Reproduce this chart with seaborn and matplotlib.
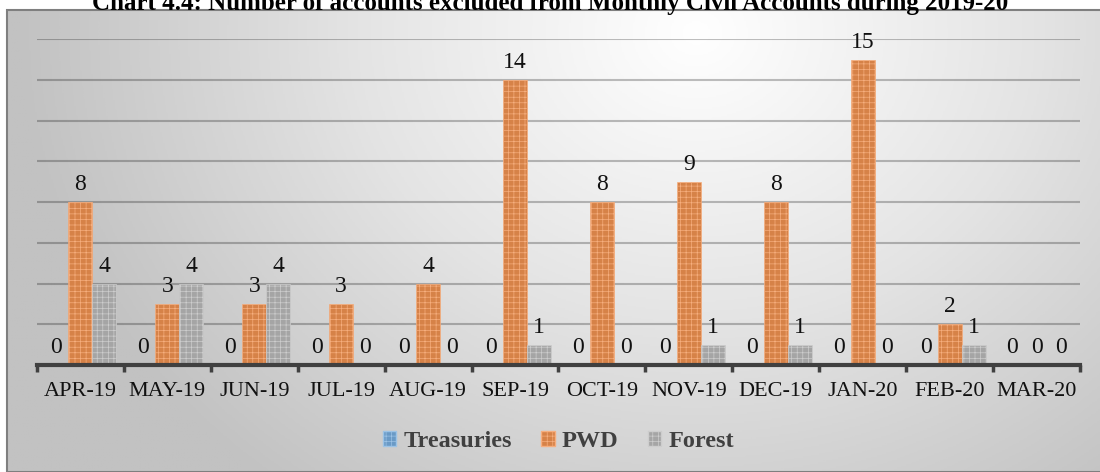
import matplotlib
matplotlib.use("Agg")
import matplotlib.pyplot as plt
from matplotlib.colors import LinearSegmentedColormap
from matplotlib.patches import Rectangle
import seaborn as sns
import pandas as pd
import numpy as np

# Data
months = ['APR-19', 'MAY-19', 'JUN-19', 'JUL-19', 'AUG-19', 'SEP-19',
          'OCT-19', 'NOV-19', 'DEC-19', 'JAN-20', 'FEB-20', 'MAR-20']
treasuries = [0, 0, 0, 0, 0, 0, 0, 0, 0, 0, 0, 0]
pwd = [8, 3, 3, 3, 4, 14, 8, 9, 8, 15, 2, 0]
forest = [4, 4, 4, 0, 0, 1, 0, 1, 1, 0, 1, 0]
series = ['Treasuries', 'PWD', 'Forest']
colors = ['#5B9BD5', '#ED7D31', '#A5A5A5']
tints = ['#9cc3e6', '#f6ae7e', '#cdcdcd']

df = pd.DataFrame({
    'month': months * 3,
    'dept': [s for s in series for _ in months],
    'count': treasuries + pwd + forest,
})

sns.set_theme(style='white')
plt.rcParams['font.family'] = ['Liberation Serif', 'DejaVu Serif']
plt.rcParams['hatch.linewidth'] = 0.5

fig = plt.figure(figsize=(11, 4.72), dpi=100)
fig.patch.set_facecolor('white')

# Radial gradient background of the chart frame
bg = fig.add_axes([0.0064, 0, 0.9936, 0.979])
bg.set_axis_off()
h, w = 300, 700
yy, xx = np.mgrid[0:h, 0:w]
cx, cy = 0.63 * w, 0.05 * h
d = np.sqrt(((xx - cx) / (0.62 * w)) ** 2 + ((yy - cy) / (1.25 * h)) ** 2)
d = np.clip(d, 0, 1)
cmap = LinearSegmentedColormap.from_list('bg', ['#ffffff', '#e4e4e4', '#c2c2c2'])
bg.imshow(d, cmap=cmap, aspect='auto', extent=[0, 1, 0, 1], origin='upper')
bg.set_xlim(0, 1)
bg.set_ylim(0, 1)
bg.add_patch(Rectangle((0, 0), 1.2, 1, fill=False, edgecolor='#7f7f7f', lw=1.5,
                       transform=bg.transAxes, clip_on=False))

ax = fig.add_axes([0.0336, 0.2267, 0.9482, 0.69])
ax.patch.set_alpha(0)
sns.barplot(data=df, x='month', y='count', hue='dept', palette=colors,
            hue_order=series, width=0.83, ax=ax, legend=True)

for cont, tint in zip(ax.containers, tints):
    for bar in cont:
        bar.set_hatch('+++')
        bar.set_edgecolor(tint)
        bar.set_linewidth(0.5)
    ax.bar_label(cont, labels=[str(int(b.get_height())) for b in cont],
                 padding=5, fontsize=17, color='#111111')

ax.set_ylim(0, 16)
ax.set_xlim(-0.5, len(months) - 0.5)
ax.set_yticks(range(2, 17, 2))
ax.set_yticklabels([])
ax.yaxis.grid(True, color='black', alpha=0.25, lw=1.5)
ax.set_axisbelow(True)
ax.tick_params(axis='y', length=0)
for s in ['top', 'right', 'left']:
    ax.spines[s].set_visible(False)
ax.spines['bottom'].set_color('#404040')
ax.spines['bottom'].set_linewidth(3)
ax.set_xlabel('')
ax.set_ylabel('')
ax.tick_params(axis='x', which='major', length=0, labelsize=16, pad=12,
               labelcolor='#111111')
ax.set_xticks(np.arange(-0.5, len(months), 1), minor=True)
ax.tick_params(axis='x', which='minor', length=5, width=2.5, color='#404040',
               bottom=True)

leg = ax.legend(loc='center', bbox_to_anchor=(0.5, -0.235), ncol=3, frameon=False,
                handlelength=0.55, handleheight=0.55, handletextpad=0.3,
                columnspacing=1.2, prop={'weight': 'bold', 'size': 17.5})
for t in leg.get_texts():
    t.set_color('#404040')
for hnd, tint in zip(leg.legend_handles, tints):
    hnd.set_hatch('+++')
    hnd.set_edgecolor(tint)

fig.text(0.5, 1 - 10 / 472, 'Chart 4.4: Number of accounts excluded from Monthly Civil Accounts during 2019-20',
         ha='center', va='baseline', fontsize=18, fontweight='bold', color='black')

fig.savefig('out.png', dpi=100)
